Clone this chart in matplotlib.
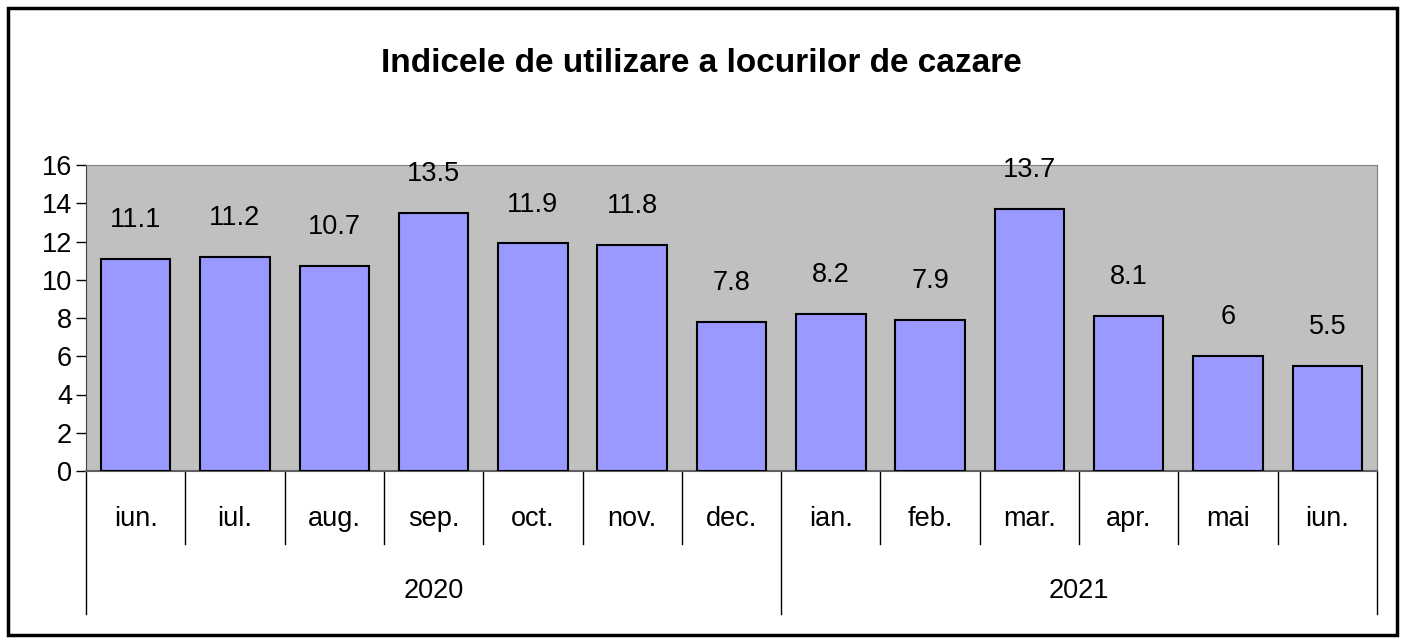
import numpy as np
import matplotlib.pyplot as plt
from matplotlib.patches import Rectangle
import matplotlib.transforms as mtransforms

plt.rcParams['font.family'] = ['Liberation Sans Narrow', 'Liberation Sans', 'DejaVu Sans']

months = ['iun.', 'iul.', 'aug.', 'sep.', 'oct.', 'nov.', 'dec.',
          'ian.', 'feb.', 'mar.', 'apr.', 'mai', 'iun.']
values = [11.1, 11.2, 10.7, 13.5, 11.9, 11.8, 7.8, 8.2, 7.9, 13.7, 8.1, 6, 5.5]
years = ['2020', '2021']
months_per_year = [7, 6]

W, H = 1402, 643
fs = 19.5
fig = plt.figure(figsize=(W / 100, H / 100), dpi=100)
ax = fig.add_axes([86 / W, 1 - 471 / H, (1377 - 86) / W, (471 - 165) / H])
ax.set_facecolor('#C0C0C0')

x = np.arange(len(values))
ax.bar(x, values, width=0.7, color='#9999FF', edgecolor='black', linewidth=1.5, zorder=3)
for xi, v in zip(x, values):
    ax.annotate(f'{v:g}', (xi, v), xytext=(0, 28), textcoords='offset points',
                ha='center', va='center', fontsize=fs)

ax.set_xlim(-0.5, len(values) - 0.5)
ax.set_ylim(0, 16)
ax.set_yticks(range(0, 17, 2))
ax.tick_params(axis='y', labelsize=fs, length=7, width=1, direction='out', pad=3)
ax.set_xticks([])
for s in ['top', 'right']:
    ax.spines[s].set_color('#808080')
ax.spines['left'].set_color('#404040')
ax.spines['bottom'].set_color('#606060')
ax.spines['bottom'].set_linewidth(1.5)

# category axis: month and year dividers and labels
trans = mtransforms.blended_transform_factory(ax.transData, ax.transAxes)
axh = 471 - 165
y_month = -(544 - 471) / axh
y_year = -(614 - 471) / axh
bounds = np.cumsum([0] + months_per_year)
for b in range(len(values) + 1):
    y_end = y_year if b in bounds else y_month
    ax.plot([b - 0.5, b - 0.5], [0, y_end], color='black', lw=1,
            transform=trans, clip_on=False)
for xi, m in zip(x, months):
    ax.text(xi, -(519 - 471) / axh, m, transform=trans, ha='center', va='center', fontsize=fs)
for i, yr in enumerate(years):
    xc = (bounds[i] + bounds[i + 1]) / 2 - 0.5
    ax.text(xc, -(591 - 471) / axh, yr, transform=trans, ha='center', va='center', fontsize=fs)

fig.text(0.5, 1 - 63 / H, 'Indicele de utilizare a locurilor de cazare',
         ha='center', va='center', fontsize=24, fontweight='bold')

fig.patches.append(Rectangle((8 / W, 8 / H), (1397 - 8) / W, (635 - 8) / H,
                             transform=fig.transFigure, fill=False,
                             edgecolor='black', linewidth=2.5))

fig.savefig('out.png', dpi=100)
